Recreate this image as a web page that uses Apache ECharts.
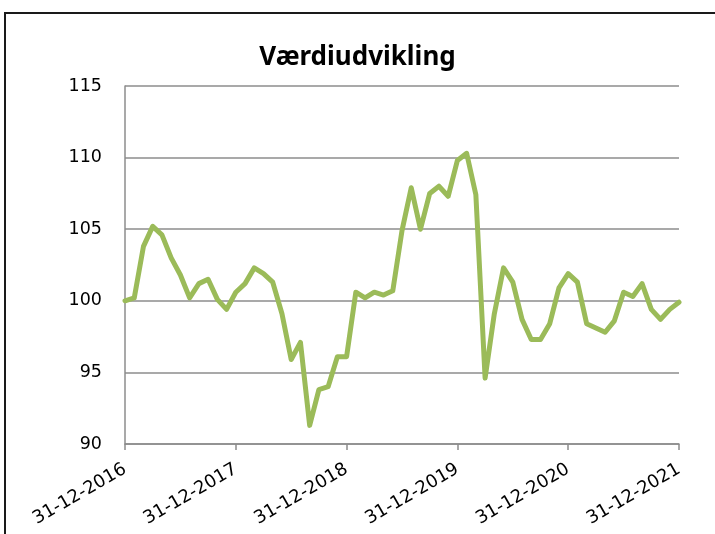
<!DOCTYPE html>
<html>
<head>
<meta charset="utf-8">
<script src="https://cdn.jsdelivr.net/npm/echarts@6/dist/echarts.min.js"></script>
<style>
  html, body { margin: 0; padding: 0; overflow: hidden; background: #fff; }
  #frame {
    position: absolute; left: 4px; top: 12px;
    width: 800px; height: 600px;
    border-top: 2px solid #1a1a1a; border-left: 2px solid #1a1a1a;
  }
  #chart { position: absolute; left: 0; top: 0; width: 715px; height: 534px; }
</style>
</head>
<body>
<div id="frame"></div>
<div id="chart"></div>
<script>
  // månedlige værdier 31-12-2016 .. 31-12-2021
  var startYear = 2016
  var values = [
    100.0, 100.2, 103.8, 105.2, 104.6, 103.0, 101.8, 100.2, 101.2, 101.5, 100.1, 99.4,
    100.6, 101.2, 102.3, 101.9, 101.3, 99.1, 95.9, 97.1, 91.3, 93.8, 94.0, 96.1,
    96.1, 100.6, 100.2, 100.6, 100.4, 100.7, 104.9, 107.9, 105.0, 107.5, 108.0, 107.3,
    109.8, 110.3, 107.4, 94.6, 99.1, 102.3, 101.3, 98.7, 97.3, 97.3, 98.4, 100.9,
    101.9, 101.3, 98.4, 98.1, 97.8, 98.6, 100.6, 100.3, 101.2, 99.4, 98.7, 99.4,
    99.9
  ]
  var yTicks = [90, 95, 100, 105, 110, 115]

  // kategorier: sidste dag i hver måned
  var categories = []
  for (var i = 0; i < values.length; i++) {
    var m = (11 + i) % 12          // 0-baseret måned
    var y = startYear + Math.floor((11 + i) / 12)
    var last = new Date(y, m + 1, 0).getDate()
    categories.push(String(last).padStart(2, '0') + '-' + String(m + 1).padStart(2, '0') + '-' + y)
  }
  var yearEnd = function (idx) { return idx % 12 === 0 }

  var chart = echarts.init(document.getElementById('chart'))
  var option = {
    animation: false,
    title: {
      text: 'Værdiudvikling',
      left: 'center',
      top: 40,
      textStyle: {
        fontFamily: 'Noto Sans',
        fontWeight: 'bold',
        fontSize: 26,
        color: '#000'
      }
    },
    grid: { left: 125, right: 36, top: 86, bottom: 90 },
    xAxis: {
      type: 'category',
      boundaryGap: false,
      data: categories,
      axisLine: { lineStyle: { color: '#8c8c8c', width: 1.5 } },
      axisTick: { interval: yearEnd, length: 6, lineStyle: { color: '#8c8c8c', width: 1.5 } },
      axisLabel: {
        interval: yearEnd,
        rotate: 30,
        margin: 24,
        color: '#000',
        fontFamily: 'DejaVu Sans',
        fontSize: 18
      },
      splitLine: { show: false }
    },
    yAxis: {
      type: 'value',
      min: yTicks[0],
      max: yTicks[yTicks.length - 1],
      interval: 5,
      axisLine: { show: true, lineStyle: { color: '#8c8c8c', width: 1.5 } },
      axisTick: { show: false },
      axisLabel: {
        margin: 23,
        color: '#000',
        fontFamily: 'DejaVu Sans',
        fontSize: 17.5
      },
      splitLine: { lineStyle: { color: '#8c8c8c', width: 1.5 } }
    },
    series: [{
      type: 'line',
      data: values,
      symbol: 'none',
      lineStyle: { color: '#9bbb59', width: 5, join: 'round', cap: 'round' }
    }]
  }
  chart.setOption(option)
</script>
</body>
</html>
